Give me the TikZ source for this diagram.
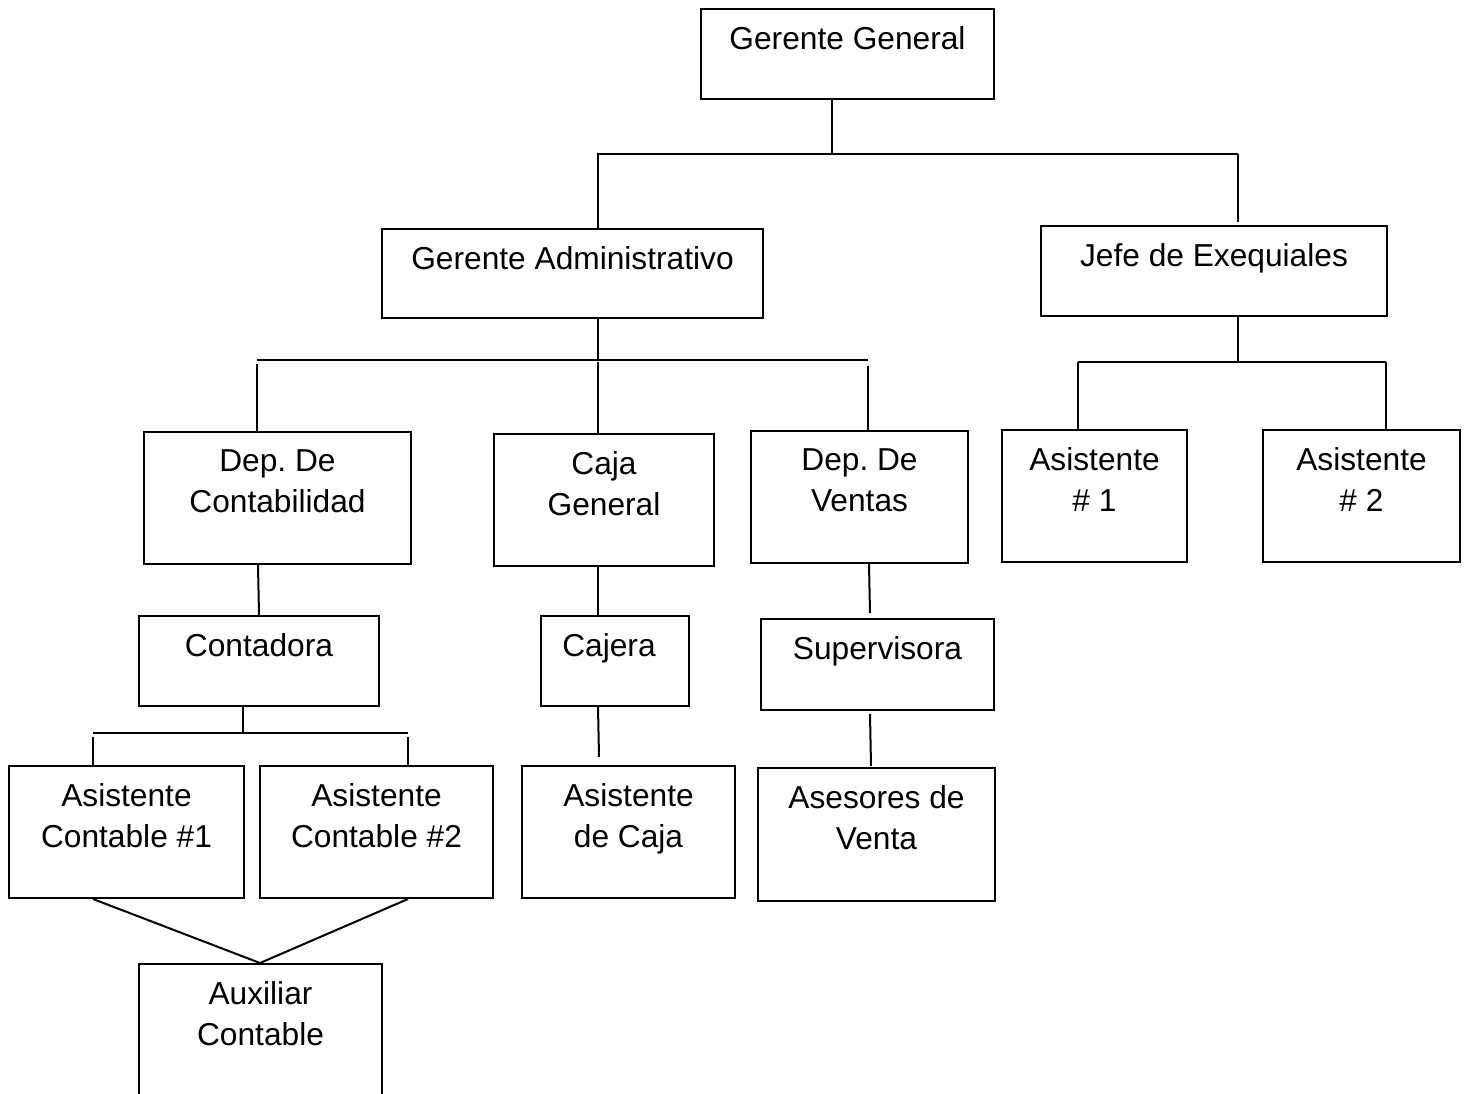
\documentclass[tikz,border=0pt]{standalone}
\usepackage{fontspec}
\setmainfont{Liberation Sans}
\frenchspacing
% box given by its corners (x1,y1)-(x2,y2), title set at the top
\newcommand\orgunit[7][0]{%
  \node[box,minimum width={#5pt-#3pt},minimum height={#6pt-#4pt}] (#2) at (#3,#4) {};
  \node[lbl] (#2-t) at ([xshift=#1pt,yshift=-18.6pt]#2.north) {#7};}
\begin{document}
\begin{tikzpicture}[x=1pt,y=-1pt,
  box/.style={draw=black,line width=2pt,rectangle,inner sep=0pt,anchor=north west},
  lbl/.style={inner sep=0pt,align=center,anchor=north,font=\fontsize{31.7}{41}\selectfont},
  link/.style={draw=black,line width=2pt}]
\useasboundingbox (0,0) rectangle (1469,1093);
\clip (0,0) rectangle (1469,1093);
\fill[white] (0,0) rectangle (1469,1093);

% units
\orgunit{GG}{700}{8}{993}{98}{Gerente General}
\orgunit{GA}{381}{228}{762}{317}{Gerente Administrativo}
\orgunit{JE}{1040}{225}{1386}{315}{Jefe de Exequiales}
\orgunit{DC}{143}{431}{410}{563}{Dep. De\\Contabilidad}
\orgunit{CG}{493}{433}{713}{565}{Caja\\General}
\orgunit{DV}{750}{430}{967}{562}{Dep. De\\Ventas}
\orgunit{AS1}{1001}{429}{1186}{561}{Asistente\\\# 1}
\orgunit{AS2}{1262}{429}{1459}{561}{Asistente\\\# 2}
\orgunit{CO}{138}{615}{378}{705}{Contadora}
\orgunit[-6]{CJ}{540}{615}{688}{705}{Cajera}
\orgunit{SU}{760}{618}{993}{709}{Supervisora}
\orgunit{AC1}{8}{765}{243}{897}{Asistente\\Contable \#1}
\orgunit{AC2}{259}{765}{492}{897}{Asistente\\Contable \#2}
\orgunit{ASC}{521}{765}{734}{897}{Asistente\\de Caja}
\orgunit{AV}{757}{767}{994}{900}{Asesores de\\Venta}
\orgunit{AX}{138}{963}{381}{1100}{Auxiliar\\Contable}

% bus junctions
\coordinate (b1) at (832,154);
\coordinate (b1l) at (598,154);
\coordinate (b1r) at (1238,154);
\coordinate (b2) at (598,360);
\coordinate (b2l) at (257,360);
\coordinate (b2r) at (868,360);
\coordinate (b3) at (1238,362);
\coordinate (b3l) at (1078,362);
\coordinate (b3r) at (1386,362);
\coordinate (b4) at (243,733);
\coordinate (b4l) at (93,733);
\coordinate (b4r) at (408,733);
\coordinate (ax) at (260,963);

% Gerente General
\draw[link] (GG.south -| b1) -- (b1);
\draw[link] ([xshift=-1pt]b1l) -- (b1r);
\draw[link] (b1l) -- (GA.north -| b1l);
\draw[link] (b1r) -- ([yshift=3pt]JE.north -| b1r);

% Gerente Administrativo
\draw[link] (GA.south -| b2) -- (b2);
\draw[link] (b2l) -- (b2r);
\draw[link] ([yshift=-4pt]b2l) -- (DC.north -| b2l);
\draw[link] ([yshift=-2pt]b2) -- (CG.north -| b2);
\draw[link] ([yshift=-6pt]b2r) -- (DV.north -| b2r);

% Jefe de Exequiales
\draw[link] (JE.south -| b3) -- (b3);
\draw[link] (b3l) -- (b3r);
\draw[link] (b3l) -- (AS1.north -| b3l);
\draw[link] (b3r) -- (AS2.north -| b3r);

% Contabilidad
\draw[link] (DC.south -| 258,0) -- (CO.north -| 259,0);
\draw[link] (CO.south -| b4) -- (b4);
\draw[link] (b4l) -- (b4r);
\draw[link] ([yshift=-4pt]b4l) -- (AC1.north -| b4l);
\draw[link] ([yshift=-4pt]b4r) -- (AC2.north -| b4r);
\draw[link] (AC1.south -| b4l) -- (ax);
\draw[link] (AC2.south -| b4r) -- (ax);

% Caja
\draw[link] (CG.south -| 598,0) -- (CJ.north -| 598,0);
\draw[link] (CJ.south -| 598,0) -- ([yshift=8pt]ASC.north -| 599,0);

% Ventas
\draw[link] (DV.south -| 869,0) -- ([yshift=5pt]SU.north -| 870,0);
\draw[link] ([yshift=-3pt]SU.south -| 870,0) -- ([yshift=1pt]AV.north -| 871,0);
\end{tikzpicture}
\end{document}
